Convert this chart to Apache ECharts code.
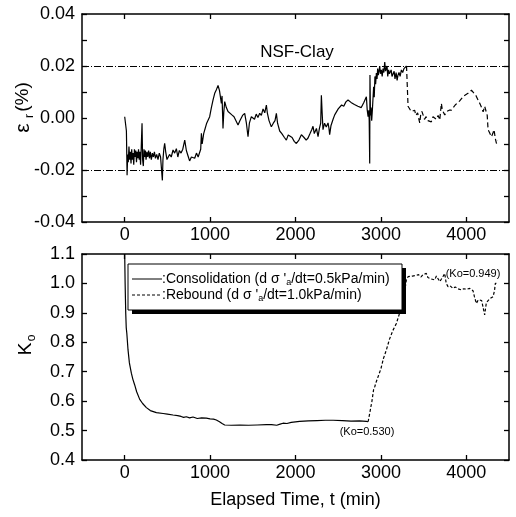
<!DOCTYPE html>
<html>
<head>
<meta charset="utf-8">
<script src="https://cdn.jsdelivr.net/npm/echarts@6/dist/echarts.min.js"></script>
<style>html,body{margin:0;padding:0;background:#fff;}#c{width:516px;height:517px;}</style>
</head>
<body>
<div id="c"></div>
<script>
// ---- data ----
var xTicks = [0, 1000, 2000, 3000, 4000];
var strainRefLines = [0.0205, -0.0193];
var strainConsolidation = [[0,0.0005],[12,0.000],[20,-0.005],[28,-0.022],[35,-0.014],[42,-0.017],[50,-0.011],[58,-0.016],[66,-0.013],[74,-0.0175],[82,-0.012],[90,-0.016],[98,-0.0135],[106,-0.018],[114,-0.012],[122,-0.015],[130,-0.0125],[138,-0.017],[146,-0.013],[154,-0.0155],[162,-0.012],[170,-0.016],[178,-0.013],[186,-0.018],[194,-0.011],[203,-0.002],[210,-0.016],[218,-0.0185],[226,-0.012],[234,-0.015],[242,-0.0125],[250,-0.016],[260,-0.013],[270,-0.015],[280,-0.0125],[290,-0.0155],[300,-0.013],[312,-0.016],[324,-0.0135],[336,-0.015],[348,-0.013],[360,-0.0155],[375,-0.014],[390,-0.016],[405,-0.0135],[420,-0.015],[432,-0.0145],[441,-0.024],[448,-0.016],[458,-0.012],[468,-0.0097],[480,-0.013],[495,-0.016],[507,-0.0155],[525,-0.014],[545,-0.015],[566,-0.0123],[585,-0.0135],[605,-0.0118],[622,-0.015],[640,-0.0125],[660,-0.0135],[680,-0.012],[703,-0.0085],[722,-0.0125],[741,-0.0145],[760,-0.0165],[781,-0.015],[800,-0.0145],[820,-0.0155],[840,-0.0135],[860,-0.015],[878,-0.0149],[890,-0.012],[898,-0.0059],[907,-0.010],[917,-0.0097],[925,-0.006],[937,-0.0046],[960,-0.002],[995,0.0005],[1015,0.004],[1034,0.0069],[1054,0.0095],[1075,0.011],[1093,0.0125],[1110,0.0105],[1120,0.0100],[1132,0.0056],[1140,0.0085],[1151,-0.004],[1160,0.002],[1171,0.0063],[1190,0.004],[1210,0.0025],[1230,0.0018],[1255,0.0012],[1280,0.0005],[1300,0.0008],[1327,-0.0027],[1350,-0.001],[1380,0.001],[1405,0.0018],[1425,-0.002],[1444,-0.0072],[1460,-0.002],[1483,0.0005],[1500,0.001],[1520,-0.0005],[1540,0.0015],[1560,0.0002],[1581,0.0018],[1600,0.001],[1620,0.0035],[1640,0.002],[1659,0.005],[1670,0.002],[1690,-0.001],[1717,-0.0034],[1740,-0.002],[1760,-0.001],[1776,0.0018],[1790,-0.002],[1815,-0.005],[1840,-0.006],[1870,-0.0075],[1893,-0.0085],[1915,-0.0065],[1932,-0.006],[1960,-0.0075],[1985,-0.009],[2010,-0.0098],[2040,-0.0085],[2069,-0.0064],[2100,-0.0075],[2125,-0.0085],[2147,-0.0077],[2170,-0.006],[2190,-0.0045],[2205,-0.0032],[2220,-0.006],[2245,-0.004],[2264,-0.0072],[2280,-0.004],[2295,-0.002],[2303,0.0087],[2312,0.002],[2322,-0.0045],[2340,-0.002],[2360,-0.0035],[2381,-0.0019],[2392,-0.004],[2400,-0.0064],[2415,-0.003],[2440,-0.0005],[2459,0.0012],[2480,0.0015],[2500,0.0035],[2518,0.003],[2540,0.005],[2565,0.0045],[2590,0.0062],[2615,0.0069],[2650,0.006],[2690,0.0052],[2730,0.0045],[2770,0.004],[2800,0.006],[2830,0.0082],[2840,0.003],[2850,0.0005],[2858,0.003],[2863,-0.001],[2869,-0.0175],[2872,0.0165],[2878,0.001],[2885,0.004],[2892,-0.001],[2900,0.003],[2908,0.0030],[2915,0.012],[2922,0.008],[2930,0.016],[2938,0.013],[2947,0.0173],[2955,0.015],[2962,0.019],[2970,0.0165],[2978,0.018],[2986,0.020],[2995,0.017],[3005,0.0185],[3015,0.016],[3025,0.019],[3035,0.0175],[3045,0.0215],[3055,0.018],[3064,0.0177],[3072,0.020],[3080,0.016],[3090,0.0185],[3100,0.017],[3110,0.0165],[3120,0.0185],[3130,0.016],[3142,0.0154],[3155,0.018],[3165,0.015],[3178,0.0175],[3190,0.0145],[3200,0.0165],[3212,0.0175],[3225,0.016],[3240,0.0185],[3255,0.0175],[3270,0.019],[3284,0.0192],[3300,0.020]];
var strainRebound = [[3300,0.020],[3310,0.0195],[3318,0.0045],[3335,0.004],[3355,0.0025],[3377,0.0024],[3395,0.003],[3410,0.001],[3430,0.002],[3445,-0.0005],[3455,-0.0019],[3465,0.001],[3480,0.0025],[3494,0.0012],[3510,-0.0005],[3530,0.0005],[3550,-0.001],[3572,-0.0008],[3590,-0.0015],[3610,0.0005],[3630,0.0005],[3650,-0.0005],[3670,0.001],[3689,-0.0008],[3700,0.003],[3708,0.0056],[3720,0.003],[3735,0.0025],[3748,0.0012],[3770,0.0025],[3800,0.003],[3826,0.003],[3870,0.005],[3920,0.0065],[3970,0.0085],[4020,0.0095],[4060,0.0107],[4090,0.0095],[4115,0.0085],[4138,0.0069],[4160,0.0055],[4180,0.004],[4197,0.0024],[4215,0.0045],[4236,0.0043],[4245,0.001],[4255,-0.0045],[4270,-0.0055],[4294,-0.0072],[4310,-0.006],[4325,-0.0045],[4340,-0.008],[4353,-0.0098],[4365,-0.0085]];
var koConsolidation = [[0,1.1],[5,1.0],[12,0.9],[18,0.85],[25,0.83],[39,0.774],[55,0.73],[78,0.695],[95,0.675],[117,0.655],[140,0.632],[176,0.606],[210,0.592],[254,0.578],[300,0.568],[371,0.561],[450,0.558],[500,0.556],[566,0.553],[620,0.551],[660,0.548],[690,0.545],[722,0.547],[760,0.543],[800,0.546],[850,0.541],[900,0.543],[956,0.542],[1000,0.54],[1040,0.539],[1073,0.536],[1110,0.53],[1140,0.524],[1171,0.519],[1250,0.518],[1350,0.519],[1450,0.518],[1550,0.519],[1659,0.52],[1720,0.52],[1780,0.518],[1820,0.522],[1854,0.525],[1900,0.524],[1950,0.528],[2049,0.531],[2150,0.533],[2250,0.534],[2350,0.535],[2440,0.535],[2550,0.534],[2650,0.532],[2750,0.533],[2830,0.531],[2850,0.530]];
var koRebound = [[2850,0.530],[2870,0.56],[2895,0.60],[2915,0.64],[2928,0.649],[2945,0.665],[2967,0.683],[3000,0.71],[3030,0.745],[3064,0.774],[3100,0.81],[3140,0.84],[3181,0.864],[3220,0.9],[3259,0.938],[3280,0.975],[3298,1.012],[3318,1.023],[3337,1.029],[3370,1.025],[3390,1.02],[3415,1.027],[3440,1.03],[3454,1.029],[3470,1.022],[3494,1.03],[3515,1.025],[3532,1.034],[3550,1.02],[3571,1.023],[3590,1.015],[3610,1.02],[3630,1.012],[3650,1.025],[3670,1.02],[3690,1.006],[3708,1.006],[3730,1.025],[3747,1.034],[3765,1.0],[3786,0.989],[3810,0.992],[3830,0.99],[3845,0.983],[3870,0.988],[3900,0.982],[3920,0.985],[3942,0.978],[3970,0.982],[4000,0.98],[4040,0.983],[4060,0.978],[4079,0.975],[4095,0.955],[4118,0.932],[4140,0.944],[4160,0.94],[4180,0.942],[4200,0.94],[4215,0.893],[4235,0.935],[4255,0.94],[4275,0.948],[4295,0.95],[4313,0.955],[4330,0.975],[4340,1.0],[4352,1.0]];
var strainRange = [-0.04, 0.04];
var koRange = [0.4, 1.1];

var FONT = '"Liberation Sans", Arial, sans-serif';
var BLACK = '#000';

function xAx(grid, pos, showLabel, name) {
  return {
    type: 'value', gridIndex: grid, position: pos, min: -500, max: 4500,
    axisLine: {show: true, onZero: false, lineStyle: {color: BLACK, width: 1.5}},
    axisTick: {show: true, inside: true, length: 5, lineStyle: {color: BLACK, width: 1.3}, customValues: xTicks},
    axisLabel: {show: showLabel, customValues: xTicks, color: BLACK, fontSize: 18, fontFamily: FONT, margin: 4,
      formatter: function (v) { return String(Math.round(v)); }},
    splitLine: {show: false},
    name: name || '', nameLocation: 'middle', nameGap: 31,
    nameTextStyle: {color: BLACK, fontSize: 18, fontFamily: FONT}
  };
}
function yAx(grid, pos, showLabel, min, max, interval, fmt) {
  return {
    type: 'value', gridIndex: grid, position: pos, min: min, max: max, interval: interval,
    axisLine: {show: true, onZero: false, lineStyle: {color: BLACK, width: 1.5}},
    axisTick: {show: true, inside: true, length: 5, lineStyle: {color: BLACK, width: 1.3}},
    axisLabel: {show: showLabel, color: BLACK, fontSize: 18, fontFamily: FONT, margin: 7, formatter: fmt},
    splitLine: {show: false}
  };
}
var strainFmt = function (v) {
  var k = Math.round(v * 100);
  if (k % 2 !== 0) return '';
  return (k / 100).toFixed(2);
};
var koFmt = function (v) { return v.toFixed(1); };

var chart = echarts.init(document.getElementById('c'), null, {renderer: 'canvas'});
chart.setOption({
  backgroundColor: '#fff',
  animation: false,
  grid: [
    {left: 82, right: 7, top: 14, height: 208},
    {left: 82, right: 7, top: 254, height: 206}
  ],
  xAxis: [
    xAx(0, 'bottom', true), xAx(0, 'top', false),
    xAx(1, 'bottom', true, 'Elapsed Time, t (min)'), xAx(1, 'top', false)
  ],
  yAxis: [
    yAx(0, 'left', true, strainRange[0], strainRange[1], 0.01, strainFmt),
    yAx(0, 'right', false, strainRange[0], strainRange[1], 0.01, strainFmt),
    yAx(1, 'left', true, koRange[0], koRange[1], 0.1, koFmt),
    yAx(1, 'right', false, koRange[0], koRange[1], 0.1, koFmt)
  ],
  series: [
    {type: 'line', xAxisIndex: 0, yAxisIndex: 0, data: strainConsolidation, showSymbol: false, symbol: 'none',
      lineStyle: {color: BLACK, width: 1.2}, z: 3,
      markLine: {silent: true, symbol: 'none', label: {show: false},
        lineStyle: {color: BLACK, width: 1, type: [7, 2, 1, 2]},
        data: strainRefLines.map(function (v) { return {yAxis: v}; })}},
    {type: 'line', xAxisIndex: 0, yAxisIndex: 0, data: strainRebound, showSymbol: false, symbol: 'none',
      lineStyle: {color: BLACK, width: 1.2, type: [5, 3]}, z: 3},
    {type: 'line', xAxisIndex: 2, yAxisIndex: 2, data: koConsolidation, showSymbol: false, symbol: 'none',
      lineStyle: {color: BLACK, width: 1.2}, z: 3},
    {type: 'line', xAxisIndex: 2, yAxisIndex: 2, data: koRebound, showSymbol: false, symbol: 'none',
      lineStyle: {color: BLACK, width: 1.2, type: [3, 2]}, z: 3}
  ],
  graphic: [
    {type: 'text', x: 297, y: 52, style: {text: 'NSF-Clay', fill: BLACK, font: '17px ' + FONT, align: 'center', verticalAlign: 'middle'}, z: 10},
    // y titles
    {type: 'text', x: 23, y: 128, rotation: Math.PI / 2, style: {text: 'ε', fill: BLACK, font: '21px ' + FONT, align: 'center', verticalAlign: 'middle'}, z: 10},
    {type: 'text', x: 30, y: 116, rotation: Math.PI / 2, style: {text: 'r', fill: BLACK, font: '12px ' + FONT, align: 'center', verticalAlign: 'middle'}, z: 10},
    {type: 'text', x: 23, y: 97, rotation: Math.PI / 2, style: {text: '(%)', fill: BLACK, font: '19px ' + FONT, align: 'center', verticalAlign: 'middle'}, z: 10},
    {type: 'text', x: 26, y: 349, rotation: Math.PI / 2, style: {text: 'K', fill: BLACK, font: '19px ' + FONT, align: 'center', verticalAlign: 'middle'}, z: 10},
    {type: 'text', x: 32, y: 338, rotation: Math.PI / 2, style: {text: 'o', fill: BLACK, font: '12px ' + FONT, align: 'center', verticalAlign: 'middle'}, z: 10},
    // legend box
    {type: 'rect', shape: {x: 132, y: 268, width: 274, height: 46}, style: {fill: BLACK}, z: 10},
    {type: 'rect', shape: {x: 128, y: 264, width: 274, height: 46}, style: {fill: '#fff', stroke: BLACK, lineWidth: 1}, z: 11},
    {type: 'line', shape: {x1: 132, y1: 279, x2: 162, y2: 279}, style: {stroke: BLACK, lineWidth: 1}, z: 12},
    {type: 'line', shape: {x1: 132, y1: 295, x2: 162, y2: 295}, style: {stroke: BLACK, lineWidth: 1, lineDash: [3, 2]}, z: 12},
    {type: 'text', x: 162, y: 279, z: 12, style: {
      text: '{t|:Consolidation (d σ \'}{s|a}{t|/dt=0.5kPa/min)}', align: 'left', verticalAlign: 'middle',
      rich: {t: {fontSize: 14, fontFamily: FONT, fill: BLACK, lineHeight: 16}, s: {fontSize: 9, fontFamily: FONT, fill: BLACK, verticalAlign: 'bottom', lineHeight: 10}}}},
    {type: 'text', x: 162, y: 295, z: 12, style: {
      text: '{t|:Rebound (d σ \'}{s|a}{t|/dt=1.0kPa/min)}', align: 'left', verticalAlign: 'middle',
      rich: {t: {fontSize: 14, fontFamily: FONT, fill: BLACK, lineHeight: 16}, s: {fontSize: 9, fontFamily: FONT, fill: BLACK, verticalAlign: 'bottom', lineHeight: 10}}}},
    // annotations
    {type: 'text', x: 367, y: 432, style: {text: '(Ko=0.530)', fill: BLACK, font: '11px ' + FONT, align: 'center', verticalAlign: 'middle'}, z: 10},
    {type: 'text', x: 473, y: 274, style: {text: '(Ko=0.949)', fill: BLACK, font: '11px ' + FONT, align: 'center', verticalAlign: 'middle'}, z: 10}
  ]
});
</script>
</body>
</html>
